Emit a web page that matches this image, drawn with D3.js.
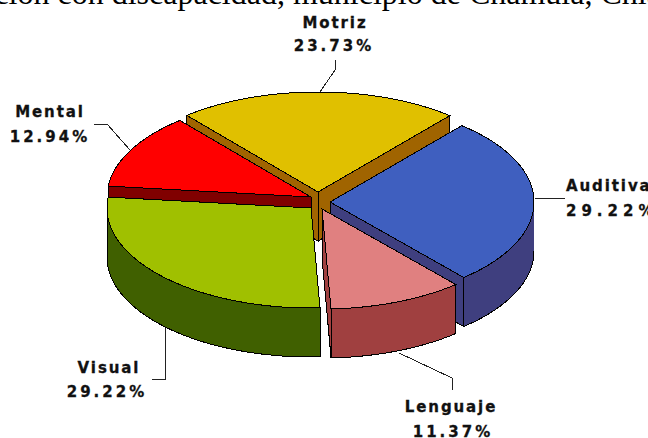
<!DOCTYPE html>
<html><head><meta charset="utf-8">
<script src="https://cdn.jsdelivr.net/npm/d3@7"></script>
<style>html,body{margin:0;padding:0;background:#fff;overflow:hidden}svg{display:block}</style>
</head><body><svg id="c" width="648" height="438"></svg>
<script>
const categories=["Motriz","Auditiva","Lenguaje","Visual","Mental"];
const values=[23.73,29.22,11.37,29.22,12.94];
const valueLabels=["23.73%","29.22%","11.37%","29.22%","12.94%"];
const topColors=["#e0c000","#3f5fbf","#e08080","#a0c000","#ff0000"];
const sideColors=["#a06400","#3f3f7f","#a04040","#406000","#800000"];
const centers=[[318,192],[330,202],[322,209],[311,208],[311,197]];
const drawOrder=[0,4,1,3,2];
const labelPos=[[335,28,334,51],[566,191,566,216],[451,412,453,437],[109,373,107,397],[50,117,50,142]];
const labelAnchor=["middle","start","middle","middle","middle"];
const valueSpacing=[3,5,3,3,3];
const leaders=[[[335,60],[335,70],[320,92]],[[535,198],[565,198]],[[399,353],[452,378],[452,390]],[[165,328],[165,379],[152,379]],[[94,124],[107,124],[130,150]]];
const titleText="ción con discapacidad, municipio de Chamula, Chiapas";

const svg=d3.select("#c");
const rx=204,ry=100,depth=49;
const sx=d3.scaleLinear().domain([-1,1]).range([-rx,rx]);
const sy=d3.scaleLinear().domain([-1,1]).range([-ry,ry]);
const start=-40*Math.PI/180;
const arcs=d3.pie().sort(null).startAngle(start).endAngle(start+2*Math.PI)(values);
const line=d3.line();
const P=(c,a,d=0)=>[c[0]+sx(Math.sin(a)),c[1]-sy(Math.cos(a))+d];
const sweep=(c,a,b,d=0)=>{const n=Math.max(2,Math.ceil((b-a)/0.02));return d3.range(n+1).map(i=>P(c,a+(b-a)*i/n,d));};

svg.append("text").attr("x",-5.6).attr("y",3.5).attr("text-anchor","start")
  .attr("font-family","'Liberation Serif',serif").attr("font-size",32).attr("fill","#000").text(titleText);

const g=svg.append("g").attr("stroke","#000").attr("stroke-width",1).attr("stroke-linejoin","miter").attr("shape-rendering","crispEdges");
drawOrder.forEach(i=>{
  const s=arcs[i],c=centers[i],a=s.startAngle,b=s.endAngle;
  [a,b].sort((u,v)=>P(c,u)[1]-P(c,v)[1]).forEach(t=>{
    const w=[c,P(c,t),P(c,t,depth),[c[0],c[1]+depth]];
    g.append("path").attr("d",line(w)+"Z").attr("fill",sideColors[i]);
  });
  const lo=Math.max(a,Math.PI/2),hi=Math.min(b,1.5*Math.PI);
  if(hi>lo){
    const w=sweep(c,lo,hi).concat(sweep(c,lo,hi,depth).reverse());
    g.append("path").attr("d",line(w)+"Z").attr("fill",sideColors[i]);
  }
  g.append("path").attr("d",line([c].concat(sweep(c,a,b)))+"Z").attr("fill",topColors[i]);
});
const lg=svg.append("g").attr("fill","none").attr("stroke","#222").attr("stroke-width",1).attr("shape-rendering","crispEdges");
leaders.forEach(l=>lg.append("path").attr("d",line(l)));
const tg=svg.append("g").attr("font-family","'DejaVu Sans',sans-serif").attr("font-weight","bold").attr("font-size",15).attr("fill","#111").attr("stroke","#111").attr("stroke-width",0.3);
categories.forEach((n,i)=>{
  const p=labelPos[i];
  tg.append("text").attr("x",p[0]).attr("y",p[1]).attr("text-anchor",labelAnchor[i]).attr("letter-spacing",1.9).text(n);
  tg.append("text").attr("x",p[2]).attr("y",p[3]).attr("text-anchor",labelAnchor[i]).attr("letter-spacing",valueSpacing[i]).text(valueLabels[i]);
});
</script></body></html>
